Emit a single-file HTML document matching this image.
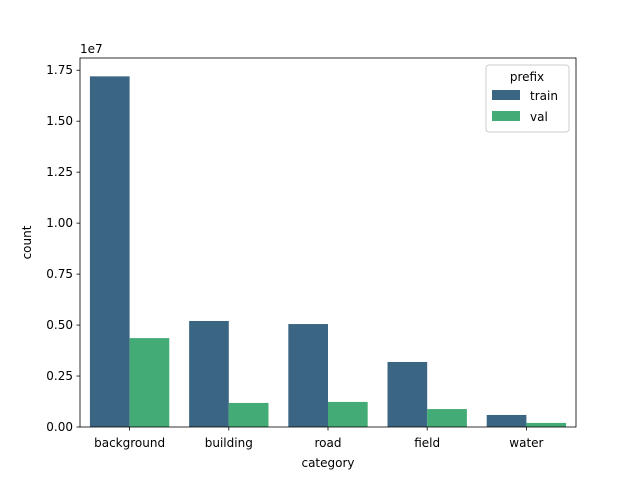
<!DOCTYPE html>
<html><head><meta charset="utf-8"><style>
body{margin:0;background:#fff;}
svg text{font-family:"DejaVu Sans","Liberation Sans",sans-serif;fill:#000;}
</style></head><body>
<svg id="chart" width="640" height="480">
<g id="plot"></g>
</svg>
<script>
const categories=["background","building","road","field","water"];
const trainValues=[1.72,0.52,0.505,0.319,0.059];
const valValues=[0.436,0.118,0.123,0.088,0.02];
const yTicks=[0,0.25,0.5,0.75,1.0,1.25,1.5,1.75];
const yTickLabels=["0.00","0.25","0.50","0.75","1.00","1.25","1.50","1.75"];
const seriesNames=["train","val"];
const colors=["#3b6683","#43ab75"];
const L=80,R=576,T=58,B=427,yMax=1.81;
const ns="http://www.w3.org/2000/svg";
const g=document.getElementById('plot');
function y(v){return B-(v/yMax)*(B-T);}
const band=(R-L)/categories.length;
function x(i){return L+band*i;}
function mk(t,a,txt){const e=document.createElementNS(ns,t);for(const k in a)e.setAttribute(k,a[k]);if(txt!==undefined)e.textContent=txt;g.appendChild(e);return e;}
const bw=band*0.4;
[trainValues,valValues].forEach((vals,s)=>{
 vals.forEach((v,i)=>{
  const r=mk('rect',{x:x(i)+band*0.1+s*bw,y:y(v),width:bw,height:B-y(v),fill:colors[s]});
  
  
 });
});
const fr=mk('rect',{x:L,y:T,width:R-L,height:B-T,fill:'none',stroke:'#000','stroke-width':0.8});


yTicks.forEach((t,i)=>{
 mk('line',{x1:L-3.5,x2:L,y1:y(t),y2:y(t),stroke:'#000','stroke-width':0.8});
 const tl=mk('text',{x:L-7,y:y(t)+4,'text-anchor':'end','font-size':12},yTickLabels[i]);
 
 
});
categories.forEach((c,i)=>{
 const cx=x(i)+band/2;
 mk('line',{x1:cx,x2:cx,y1:B,y2:B+3.5,stroke:'#000','stroke-width':0.8});
 const tl=mk('text',{x:cx,y:B+20,'text-anchor':'middle','font-size':12},c);
 
 
});
const ex=mk('text',{x:L,y:T-5,'font-size':12},'1e7');


const xt=mk('text',{x:(L+R)/2,y:467,'text-anchor':'middle','font-size':12},'category');


const yt=mk('text',{x:0,y:0,'text-anchor':'middle','font-size':12,transform:'translate(31,'+((T+B)/2)+') rotate(-90)'},'count');


const lg=mk('rect',{x:486,y:65,width:83,height:67,fill:'#fff',stroke:'#ccc',rx:3});


const lt=mk('text',{x:527,y:81,'text-anchor':'middle','font-size':12},'prefix');


seriesNames.forEach((n,i)=>{
 const yy=90+i*21;
 mk('rect',{x:492,y:yy,width:28,height:10,fill:colors[i]});
 const le=mk('text',{x:530,y:yy+10,'font-size':12},n);
 
 
});
</script>
</body></html>
